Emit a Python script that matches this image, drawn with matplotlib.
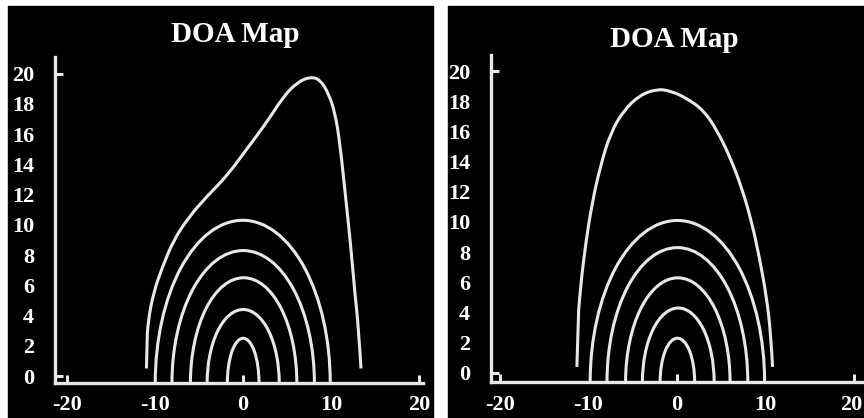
import numpy as np
import matplotlib
matplotlib.use('Agg')
import matplotlib.pyplot as plt
from matplotlib.patches import Arc, Rectangle, PathPatch
from matplotlib.path import Path
import matplotlib.transforms as mtransforms

plt.rcParams['axes.unicode_minus'] = False

# ---- data ----
titles = ['DOA Map', 'DOA Map']
xticks = [-20, -10, 0, 10, 20]
yticks = [0, 2, 4, 6, 8, 10, 12, 14, 16, 18, 20]

# inner arches: centre x, half width, peak height
left_arch_c = [0.0, 0.0, 0.05, 0.0, -0.05]
left_arch_a = [1.8, 4.1, 6.05, 8.1, 9.95]
left_arch_h = [2.5, 4.4, 6.5, 8.3, 10.3]

right_arch_c = [0.05, 0.15, 0.1, 0.05, 0.05]
right_arch_a = [1.95, 4.05, 5.9, 7.95, 9.85]
right_arch_h = [2.3, 4.3, 6.3, 8.3, 10.1]

# outer contour
left_outer_x = [-11.0, -11.0, -10.8, -10.2, -9.2, -7.9, -6.2, -4.1, -1.9, 0.4, 2.7,
                4.6, 6.1, 7.6, 8.75, 9.7, 10.45, 11.0, 11.6, 12.2, 12.7, 13.1, 13.4]
left_outer_y = [0.5, 1.9, 3.7, 5.5, 7.2, 9.0, 10.5, 11.9, 13.2, 15.0, 16.8,
                18.5, 19.4, 19.8, 19.6, 18.7, 17.4, 15.4, 12.1, 8.8, 5.5, 3.3, 0.5]

right_outer_x = [-11.3, -11.3, -10.9, -10.3, -9.6, -8.65, -7.5, -6.0, -4.2, -2.3, -0.8,
                 1.1, 3.0, 4.5, 6.0, 7.3, 8.4, 9.3, 10.1, 10.6, 10.8]
right_outer_y = [0.4, 2.6, 5.7, 8.6, 11.2, 13.7, 15.9, 17.4, 18.4, 18.8, 18.7,
                 18.2, 17.4, 16.1, 14.3, 12.3, 10.1, 7.7, 5.1, 2.6, 0.4]

W, H = 864, 418
fig = plt.figure(figsize=(W / 100, H / 100), dpi=100, facecolor='white')

# black panel backgrounds
bg = fig.add_axes([0, 0, 1, 1], zorder=-5)
bg.set_xlim(0, W)
bg.set_ylim(0, H)
bg.axis('off')
bg.add_patch(Rectangle((8, 0), 433 - 8, H - 6, color='black'))
bg.add_patch(Rectangle((448, 0), W - 448, H - 6, color='black'))

LC = '#e8e8e8'
FONT = 'Liberation Serif'


def smooth_path(xs, ys):
    # quadratic spline through the traced points (points act as controls)
    pts = list(zip(xs, ys))
    verts = [pts[0], pts[1]]
    codes = [Path.MOVETO, Path.LINETO]
    for i in range(1, len(pts) - 2):
        mid = ((pts[i][0] + pts[i + 1][0]) / 2, (pts[i][1] + pts[i + 1][1]) / 2)
        if i == 1:
            verts[-1] = mid
            continue
        verts += [pts[i], mid]
        codes += [Path.CURVE3, Path.CURVE3]
    verts += [pts[-2], pts[-1]]
    codes += [Path.CURVE3, Path.CURVE3]
    return Path(verts, codes)


def panel(rect, xlim, ylim, arch_c, arch_a, arch_h, ox, oy, title, title_xy):
    ax = fig.add_axes(rect, zorder=1)
    ax.set_facecolor('none')
    ax.set_xlim(*xlim)
    ax.set_ylim(*ylim)
    base = ylim[0]
    for c, a, h in zip(arch_c, arch_a, arch_h):
        ax.add_patch(Arc((c, base), 2 * a, 2 * (h - base), theta1=0, theta2=180,
                         color=LC, lw=2.2))
    ax.add_patch(PathPatch(smooth_path(ox, oy), fill=False, edgecolor=LC, lw=2.2,
                           joinstyle='round', capstyle='butt'))
    for s in ['top', 'right']:
        ax.spines[s].set_visible(False)
    for s in ['left', 'bottom']:
        ax.spines[s].set_color(LC)
        ax.spines[s].set_linewidth(2.4)
    ax.xaxis.remove_overlapping_locs = False
    ax.yaxis.remove_overlapping_locs = False
    ax.set_xticks(xticks)
    ax.set_yticks(yticks)
    ax.set_xticks([-20, 0, 20], minor=True)
    ax.set_yticks([0, 20], minor=True)
    ax.tick_params(which='major', length=0, colors='white', labelsize=16)
    ax.tick_params(axis='x', which='major', pad=9)
    ax.tick_params(axis='y', which='major', pad=15)
    ax.tick_params(which='minor', direction='in', length=6, width=2.2, color=LC)
    for lab in ax.get_xticklabels() + ax.get_yticklabels():
        lab.set_fontfamily(FONT)
        lab.set_fontweight('bold')
    fig.text(title_xy[0] / W, 1 - title_xy[1] / H, title, color='white',
             fontsize=21, fontweight='bold', fontfamily=FONT,
             ha='center', va='baseline', zorder=2)
    return ax

panel([55 / W, 35 / H, 368 / W, 326 / H], (-21.4, 20.45), (-0.46, 21.1),
      left_arch_c, left_arch_a, left_arch_h, left_outer_x, left_outer_y,
      titles[0], (235, 42))
ax_r = panel([491 / W, 36 / H, 371 / W, 327 / H], (-21.0, 20.9), (-0.6, 21.06),
             right_arch_c, right_arch_a, right_arch_h, right_outer_x, right_outer_y,
             titles[1], (674, 47))
# the last label sits right at the picture edge; nudge it inwards
last = ax_r.get_xticklabels()[-1]
last.set_transform(last.get_transform() +
                   mtransforms.ScaledTranslation(-3 / 100, 0, fig.dpi_scale_trans))

fig.savefig('out.png', dpi=100, facecolor='white')
